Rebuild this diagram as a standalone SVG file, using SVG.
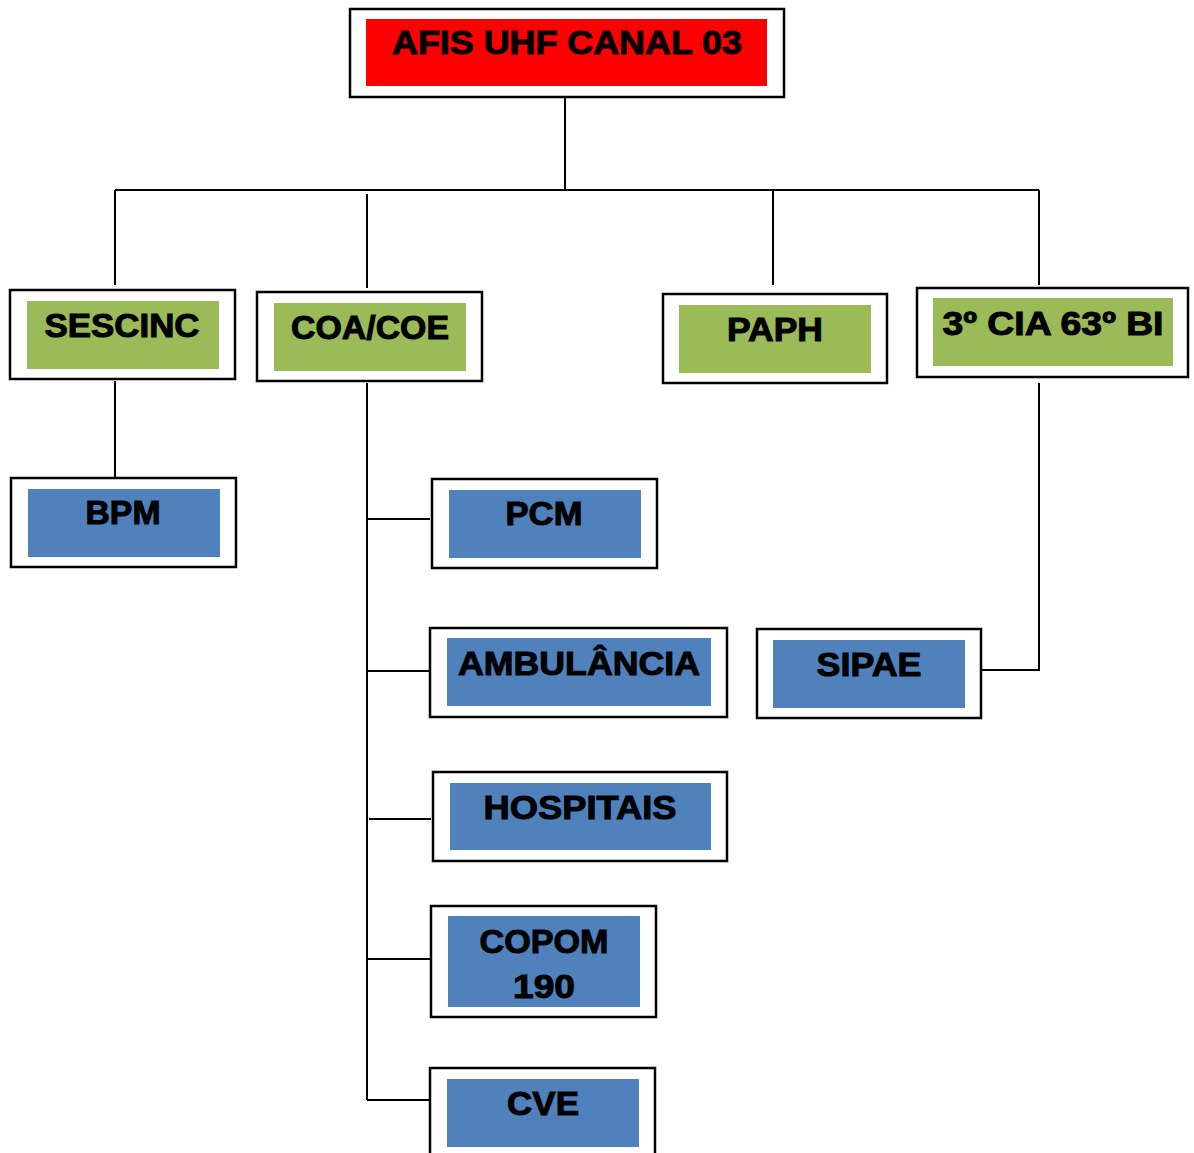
<svg xmlns="http://www.w3.org/2000/svg" width="1194" height="1153" viewBox="0 0 1194 1153">
<style>
.outer{fill:#fff;stroke:#000;stroke-width:2.5}
.red{fill:#ff0000}
.green{fill:#9bbb59}
.blue{fill:#4f81bd}
.t{font-family:"Liberation Sans",Arial,sans-serif;font-weight:bold;font-size:33px;fill:#000;stroke:#000;stroke-width:1;text-anchor:middle}
.c{stroke:#000;stroke-width:2;fill:none}
</style>
<rect width="1194" height="1153" fill="#fff"/>
<g id="connectors">
<path class="c" d="M565 97V190M115 190H1039M115 190V285M367 194V288M773 190V285M1039 190V285"/>
<path class="c" d="M115 381V478"/>
<path class="c" d="M367 383V1100M367 519H430M367 671H430M369 819H431M367 959H431M367 1100H430"/>
<path class="c" d="M1039 383V670H981"/>
</g>
<g id="afis">
<rect class="outer" x="350" y="9" width="434" height="88"/>
<rect class="red" x="366" y="19" width="401" height="67"/>
<text class="t" x="567" y="54" textLength="350" lengthAdjust="spacingAndGlyphs">AFIS UHF CANAL 03</text>
</g>
<g id="sescinc">
<rect class="outer" x="10" y="290" width="225" height="89"/>
<rect class="green" x="27" y="301" width="192" height="68"/>
<text class="t" x="122" y="337" textLength="155" lengthAdjust="spacingAndGlyphs">SESCINC</text>
</g>
<g id="coacoe">
<rect class="outer" x="257" y="292" width="225" height="89"/>
<rect class="green" x="274" y="303" width="192" height="68"/>
<text class="t" x="370" y="339" textLength="158" lengthAdjust="spacingAndGlyphs">COA/COE</text>
</g>
<g id="paph">
<rect class="outer" x="663" y="294" width="224" height="89"/>
<rect class="green" x="679" y="305" width="192" height="68"/>
<text class="t" x="775" y="341" textLength="96" lengthAdjust="spacingAndGlyphs">PAPH</text>
</g>
<g id="cia">
<rect class="outer" x="917" y="288" width="271" height="89"/>
<rect class="green" x="933" y="298" width="240" height="68"/>
<text class="t" x="1053" y="335" textLength="221" lengthAdjust="spacingAndGlyphs">3º CIA 63º BI</text>
</g>
<g id="bpm">
<rect class="outer" x="11" y="478" width="225" height="89"/>
<rect class="blue" x="28" y="489" width="192" height="68"/>
<text class="t" x="123" y="524" textLength="75" lengthAdjust="spacingAndGlyphs">BPM</text>
</g>
<g id="pcm">
<rect class="outer" x="432" y="479" width="225" height="89"/>
<rect class="blue" x="449" y="490" width="192" height="68"/>
<text class="t" x="544" y="525" textLength="77" lengthAdjust="spacingAndGlyphs">PCM</text>
</g>
<g id="ambulancia">
<rect class="outer" x="430" y="628" width="297" height="89"/>
<rect class="blue" x="447" y="638" width="264" height="68"/>
<text class="t" x="579" y="675" textLength="242" lengthAdjust="spacingAndGlyphs">AMBULÂNCIA</text>
</g>
<g id="sipae">
<rect class="outer" x="757" y="629" width="224" height="89"/>
<rect class="blue" x="773" y="640" width="192" height="68"/>
<text class="t" x="869" y="676" textLength="105" lengthAdjust="spacingAndGlyphs">SIPAE</text>
</g>
<g id="hospitais">
<rect class="outer" x="433" y="772" width="294" height="89"/>
<rect class="blue" x="450" y="783" width="261" height="67"/>
<text class="t" x="580" y="819" textLength="193" lengthAdjust="spacingAndGlyphs">HOSPITAIS</text>
</g>
<g id="copom">
<rect class="outer" x="431" y="906" width="225" height="111"/>
<rect class="blue" x="448" y="916" width="192" height="91"/>
<text class="t" x="544" y="953" textLength="129" lengthAdjust="spacingAndGlyphs">COPOM</text>
<text class="t" x="544" y="998" textLength="62" lengthAdjust="spacingAndGlyphs">190</text>
</g>
<g id="cve">
<rect class="outer" x="430" y="1068" width="225" height="100"/>
<rect class="blue" x="447" y="1079" width="192" height="68"/>
<text class="t" x="543" y="1115" textLength="72" lengthAdjust="spacingAndGlyphs">CVE</text>
</g>
</svg>
